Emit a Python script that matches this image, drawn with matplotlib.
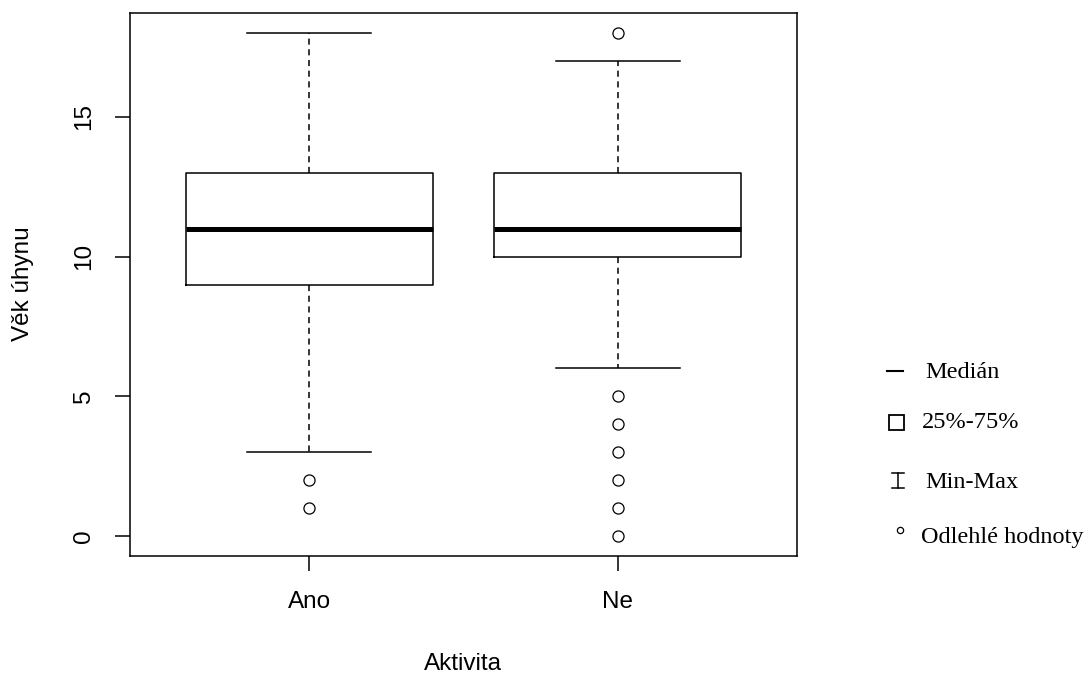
import matplotlib
matplotlib.use("Agg")
import matplotlib.pyplot as plt
from matplotlib.lines import Line2D
from matplotlib.patches import Rectangle

# box stats
groups = ["Ano", "Ne"]
medians = [11, 11]
q1 = [9, 10]
q3 = [13, 13]
whislo = [3, 6]
whishi = [18, 17]
outliers = [[1, 2], [0, 1, 2, 3, 4, 5, 18]]

legend_labels = ["Medián", "25%-75%", "Min-Max", "Odlehlé hodnoty"]

plt.rcParams['font.family'] = ['Liberation Sans', 'DejaVu Sans']
W, H = 1084, 677
FS = 17.5

fig = plt.figure(figsize=(W / 100, H / 100), dpi=100)
ax = fig.add_axes([130 / W, 1 - 556 / H, 667 / W, 543 / H])

stats = []
for i in range(len(groups)):
    stats.append(dict(med=medians[i], q1=q1[i], q3=q3[i], whislo=whislo[i],
                      whishi=whishi[i], fliers=outliers[i], label=groups[i]))

ax.bxp(stats, positions=[1, 2], widths=0.8, showfliers=True,
       boxprops=dict(color="black", linewidth=1.1),
       medianprops=dict(color="black", linewidth=3.6, solid_capstyle="butt"),
       whiskerprops=dict(color="black", linewidth=1.1, linestyle=(0, (4, 3))),
       capprops=dict(color="black", linewidth=1.1),
       capwidths=0.4,
       flierprops=dict(marker="o", markersize=8, markerfacecolor="none",
                       markeredgecolor="black", markeredgewidth=0.9))

ax.set_xlim(0.42, 2.58)
ax.set_ylim(-0.72, 18.72)
ax.set_yticks([0, 5, 10, 15])
ax.set_xticks([1, 2])
ax.set_xticklabels(groups)
for s in ax.spines.values():
    s.set_linewidth(1.1)
ax.tick_params(length=11, width=1.1, labelsize=FS, pad=14)
for lab in ax.get_yticklabels():
    lab.set_rotation(90)
    lab.set_va("center")

fig.text(23 / W, 1 - 284 / H, "Věk úhynu", rotation=90, ha="center",
         va="center", fontsize=FS)
fig.text(463 / W, 1 - 664 / H, "Aktivita", ha="center", va="center",
         fontsize=FS)

# hand-made legend on the right
serif = ["Liberation Serif", "DejaVu Serif"]
tf = fig.transFigure


def seg(x0, y0, x1, y1, lw=1.3):
    fig.add_artist(Line2D([x0 / W, x1 / W], [1 - y0 / H, 1 - y1 / H],
                          color="black", linewidth=lw, transform=tf))


seg(887, 371, 903, 371, 1.5)
fig.add_artist(Rectangle((889 / W, 1 - 430 / H), 15 / W, 15 / H, fill=False,
                         edgecolor="black", linewidth=1.3, transform=tf))
seg(898, 473, 898, 488, 1.1)
seg(892, 473, 904, 473, 1.1)
seg(892, 488, 904, 488, 1.1)
fig.add_artist(Line2D([900 / W], [1 - 530 / H], marker="o", markersize=4.5,
                      markerfacecolor="none", markeredgecolor="black",
                      markeredgewidth=0.9, transform=tf))

txt_x = [925, 922, 925, 921]
rows_y = [372, 423, 482, 538]
for i in range(len(legend_labels)):
    fig.text(txt_x[i] / W, 1 - rows_y[i] / H, legend_labels[i],
             ha="left", va="center", fontsize=FS, family=serif)

fig.savefig("out.png", dpi=100)
